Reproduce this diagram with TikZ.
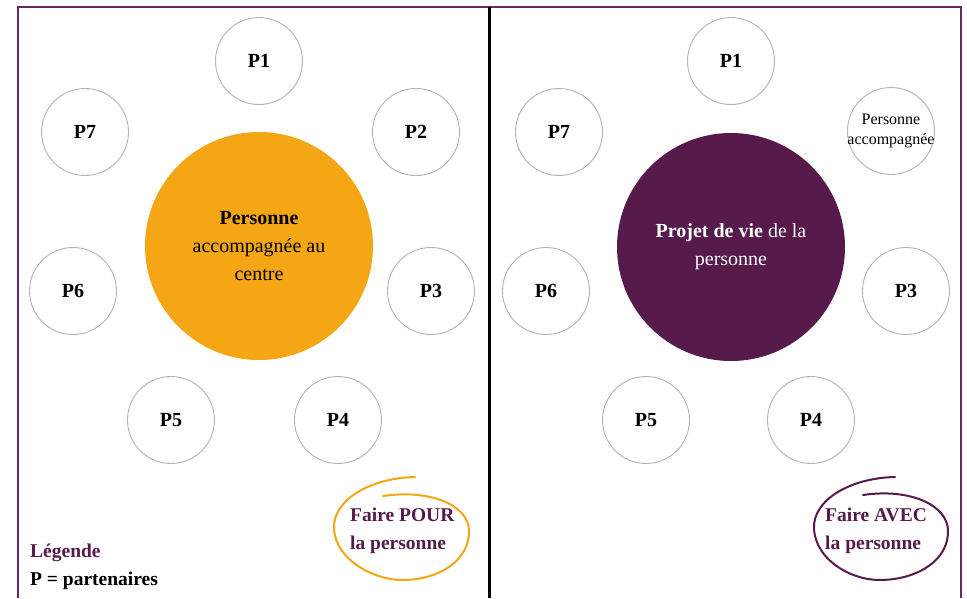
\documentclass[tikz,border=0pt]{standalone}
\usepackage{fontspec}
\setmainfont{Liberation Serif}
\usepackage{xcolor}
\usetikzlibrary{positioning,calc}
\definecolor{orangeP}{HTML}{F4A614}
\definecolor{violetP}{HTML}{561A4B}
\definecolor{cadreP}{HTML}{6A2A60}

\begin{document}
\begin{tikzpicture}[x=1pt,y=-1pt,
    part/.style={circle, draw=gray!60, line width=0.9pt, minimum size=87pt, inner sep=0pt, font=\fontsize{20}{24}\selectfont\bfseries},
    centre/.style={circle, minimum size=228pt, inner sep=0pt, align=center, font=\fontsize{20}{28}\selectfont},
    faire/.style={anchor=west, inner sep=0pt, align=left, text=violetP, font=\fontsize{19.5}{28}\selectfont\bfseries}]
    \useasboundingbox (0,0) rectangle (967,598);
    % Cadre
    \draw[cadreP, line width=2pt] (18,598) -- (18,7) -- (961,7) -- (961,598);
    \draw[line width=3pt] (489,7) -- (489,598);

    % Faire POUR
    \node[centre, fill=orangeP] (pers) at (259,246) {\textbf{Personne}\\accompagnée au\\centre};
    \node[part] (g1) at (259,61) {P1};
    \node[part] (g2) at (416,132) {P2};
    \node[part] (g3) at (431,291) {P3};
    \node[part] (g4) at (338,420) {P4};
    \node[part] (g5) at (171,420) {P5};
    \node[part] (g6) at (73,291) {P6};
    \node[part] (g7) at (85,132) {P7};

    \draw[orangeP, line width=2pt, line cap=round] (415,477) .. controls (370,478) and (333,500) .. (334,528)
        .. controls (335,560) and (375,581) .. (405,580) .. controls (440,579) and (470,560) .. (469,530)
        .. controls (468,505) and (430,489) .. (383,496);
    \node[faire] (pour) at (350,531) {Faire POUR\\la personne};

    % Legende
    \node[anchor=west, inner sep=0pt, align=left, font=\fontsize{19.5}{28}\selectfont\bfseries] (leg) at (30,567)
        {\textcolor{violetP}{Légende}\\P = partenaires};

    % Faire AVEC
    \node[centre, fill=violetP, text=white] (projet) at (731,247) {\textbf{Projet de vie} de la\\personne};
    \node[part] (d1) at (731,61) {P1};
    \node[part, font=\fontsize{16}{20}\selectfont, align=center] (d2) at (891,131)
        {\makebox[0pt]{Personne}\\\makebox[0pt]{accompagnée}};
    \node[part] (d3) at (906,291) {P3};
    \node[part] (d4) at (811,420) {P4};
    \node[part] (d5) at (646,420) {P5};
    \node[part] (d6) at (546,291) {P6};
    \node[part] (d7) at (559,132) {P7};

    \draw[violetP, line width=2pt, line cap=round] (895,477) .. controls (850,478) and (813,500) .. (814,528)
        .. controls (815,560) and (852,581) .. (882,580) .. controls (918,579) and (949,560) .. (948,530)
        .. controls (947,505) and (910,488) .. (863,495);
    \node[faire] (avec) at (825,531) {Faire AVEC\\la personne};
\end{tikzpicture}
\end{document}
